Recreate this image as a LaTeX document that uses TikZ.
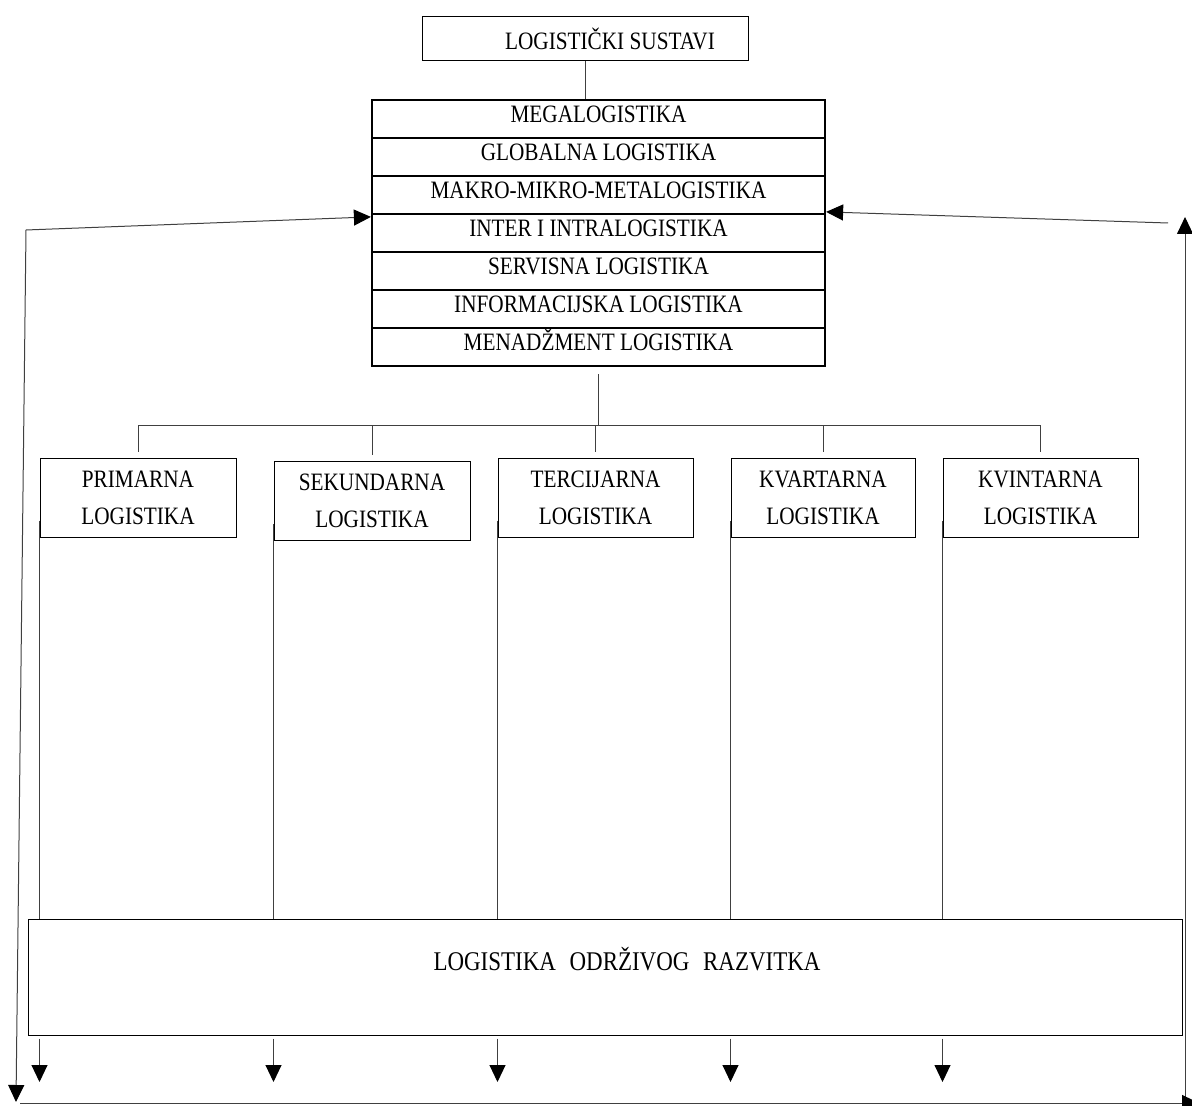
\documentclass[tikz,border=0pt]{standalone}
\usepackage{fontspec}
\setmainfont[FakeStretch=0.85]{Liberation Serif}
\usepackage{tikz}
\usetikzlibrary{positioning}
\usetikzlibrary{arrows.meta,calc}

\begin{document}
\begin{tikzpicture}[x=0.5pt, y=-0.5pt, font=\fontsize{12.5}{18.5}\selectfont,
  box/.style={draw, line width=0.5pt, inner sep=0pt, align=center},
  level/.style={draw, line width=1.1pt, inner sep=0pt, minimum width=226.5pt, minimum height=19pt, text height=8.3pt, text depth=5pt},
  conn/.style={draw=black!75, line width=0.5pt},
  arr/.style={conn, -{Triangle[width=8pt,length=8.5pt,color=black]}}]

 \useasboundingbox (0,0) rectangle (1192,1106);

 \node[box, minimum width=163pt, minimum height=22pt] (sustavi) at (585,39) {\hspace*{25pt}LOGISTIČKI SUSTAVI};

 %level 1
 \foreach \i/\name in {0/MEGALOGISTIKA, 1/GLOBALNA LOGISTIKA, 2/MAKRO-MIKRO-METALOGISTIKA, 3/INTER I INTRALOGISTIKA, 4/SERVISNA LOGISTIKA, 5/INFORMACIJSKA LOGISTIKA, 6/MENADŽMENT LOGISTIKA} {
         \node[level] (m\i) at (598.5, 119+38*\i) {\name};
 }

 %level 2
 \foreach \n/\x/\y/\w/\t in {p1/138/497.5/98/PRIMARNA, p2/372/501/98/SEKUNDARNA, p3/595.5/497.5/97.5/TERCIJARNA, p4/823/498/92/KVARTARNA, p5/1040.5/497.5/97.5/KVINTARNA} {
         \node[box, minimum width=\w pt, minimum height=39.5pt] (\n) at (\x,\y) {\t\\LOGISTIKA};
 }

 \node[box, minimum width=577pt, minimum height=58pt, text height=8.9pt, text depth=15pt, font=\fontsize{13.5}{16}\selectfont] (odr) at (605,977) {\hspace*{22pt}LOGISTIKA\hspace{4pt} ODRŽIVOG\hspace{4pt} RAZVITKA};

 \coordinate (bar) at (0,426);
 \coordinate (tips) at (0,1082);
 \coordinate (lc) at (26,230);
 \coordinate (lb) at (16,1102);
 \coordinate (rc) at (1168,223);
 \coordinate (rt) at (1185,217);
 \coordinate (rb) at (1185,1103);
 \coordinate (bl) at (20,1103);
 \coordinate (br) at (1199,1103);

 % lines
 \draw[conn] (sustavi.south) -- (sustavi.south |- m0.north);
 \draw[conn] ($(m6.south)+(0,7)$) -- (m6.south |- bar);
 \draw[conn] (p1.north |- bar) -- (p5.north |- bar);
 \foreach \n in {p1,p2,p3,p4,p5} {
         \draw[conn] (\n.north |- bar) -- ($(\n.north)+(0,-6)$);
         \draw[conn] ($(\n.south west)+(0,-17)$) -- (\n.south west |- odr.north);
         \draw[arr] ($(\n.south west |- odr.south)+(0,3)$) -- (\n.south west |- tips);
 }

 % feedback
 \draw[arr] (lc) -- ($(m3.north west)+(0,4)$);
 \draw[arr] (lc) -- (lb);
 \draw[arr] (rc) -- ($(m3.north east)+(0,-1)$);
 \draw[arr] (rb) -- (rt);
 \draw[arr] (bl) -- (br);

\end{tikzpicture}
\end{document}
